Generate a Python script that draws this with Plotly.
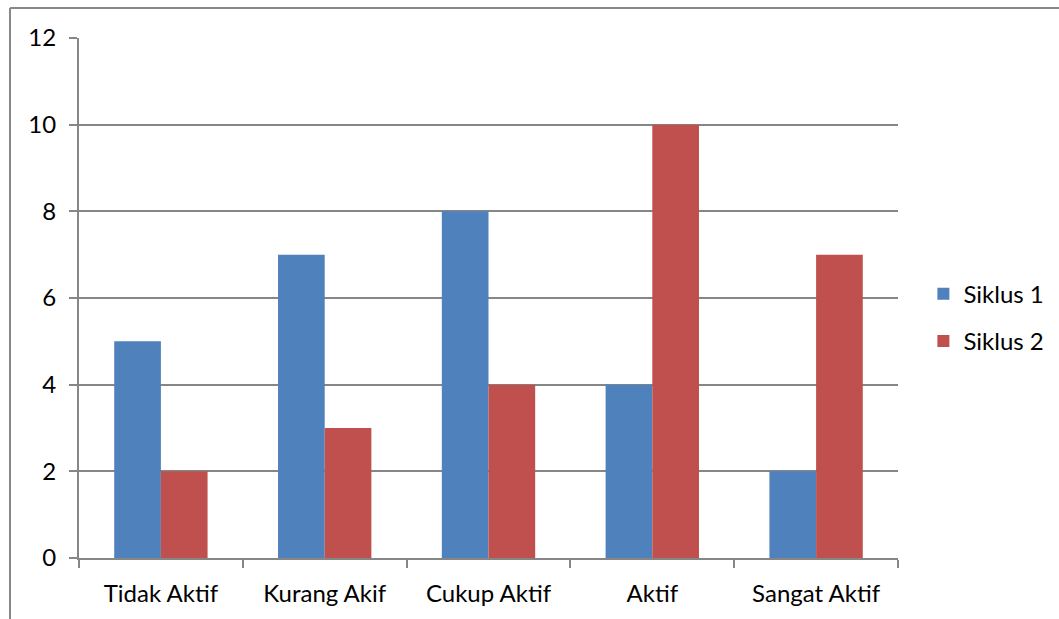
import plotly.graph_objects as go

categories = ["Tidak Aktif", "Kurang Akif", "Cukup Aktif", "Aktif", "Sangat Aktif"]
siklus1 = [5, 7, 8, 4, 2]
siklus2 = [2, 3, 4, 10, 7]
series_names = ["Siklus 1", "Siklus 2"]
y_ticks = [0, 2, 4, 6, 8, 10, 12]

FONT = "Lato"
FS = 24
fig = go.Figure()
fig.add_trace(go.Bar(x=categories, y=siklus1, name=series_names[0], marker_color="#4F81BD",
                     marker_line_width=0, legendgroup="a"))
fig.add_trace(go.Bar(x=categories, y=siklus2, name=series_names[1], marker_color="#C0504D",
                     marker_line_width=0, legendgroup="b"))

W, H = 1059, 619
L, R, T, B = 79, 161, 38, 61
fig.update_layout(
    width=W, height=H,
    margin=dict(l=L, r=R, t=T, b=B, autoexpand=False),
    paper_bgcolor="white", plot_bgcolor="white",
    barmode="group", bargap=0.43, bargroupgap=0,
    font=dict(family=FONT, size=FS, color="#000000"),
    legend=dict(x=1.031, y=0.462, xanchor="left", yanchor="middle",
                font=dict(family=FONT, size=FS), traceorder="grouped",
                tracegroupgap=13, itemwidth=30),
    showlegend=True,
    xaxis=dict(showline=True, linecolor="#868686", linewidth=2,
               ticks="outside", ticklen=8, tickcolor="#868686", tickwidth=2,
               tickson="boundaries", showgrid=False, tickfont=dict(size=FS),
               ticklabelstandoff=13),
    yaxis=dict(range=[0, 12], tickvals=y_ticks, showline=True, linecolor="#868686",
               linewidth=2, ticks="outside", ticklen=8, tickcolor="#868686", tickwidth=2,
               showgrid=True, gridcolor="#868686", gridwidth=1.5, zeroline=False,
               tickfont=dict(size=FS), ticklabelstandoff=8),
)
# outer chart frame (top and left edges visible)
fig.add_shape(type="line", xref="paper", yref="paper",
              x0=(10 - L) / (W - L - R), x1=(W + 5 - L) / (W - L - R),
              y0=(H - 8 - B) / (H - T - B), y1=(H - 8 - B) / (H - T - B),
              line=dict(color="#888888", width=2))
fig.add_shape(type="line", xref="paper", yref="paper",
              x0=(10 - L) / (W - L - R), x1=(10 - L) / (W - L - R),
              y0=(H - 8 - B) / (H - T - B), y1=(-5 - B) / (H - T - B),
              line=dict(color="#888888", width=2))
fig.write_html("out.html", config={"displayModeBar": False},
               post_script="document.body.style.margin='0';document.body.style.overflow='hidden';")
